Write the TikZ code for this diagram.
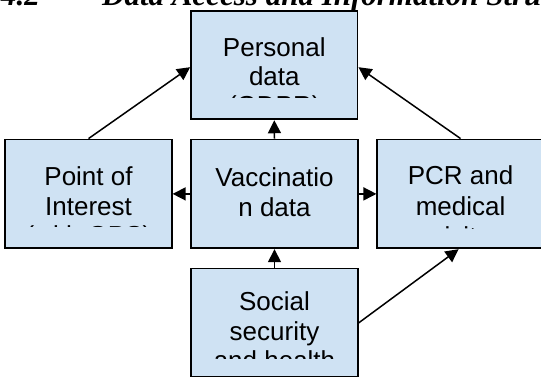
\documentclass[tikz,border=0pt]{standalone}
\usepackage{fontspec}
\setmainfont{Liberation Sans}
\newfontfamily\headfont{Liberation Serif}
\usetikzlibrary{arrows.meta}
\definecolor{boxblue}{HTML}{CFE2F3}

\begin{document}
\begin{tikzpicture}[x=1pt,y=-1pt,
  databox/.style={draw=black, line width=1.8pt, fill=boxblue, inner sep=0pt,
    minimum width=166.5pt, minimum height=108.8pt},
  boxline/.style={anchor=base, inner sep=0pt, font=\fontsize{26}{29}\selectfont},
  headline/.style={anchor=base west, inner sep=0pt,
    font=\headfont\bfseries\itshape\fontsize{31}{31}\selectfont},
  link/.style={line width=1.5pt, -{Triangle[length=13pt,width=13pt]}}]
\useasboundingbox (0,0) rectangle (541,377);
\clip (0,0) rectangle (541,377);

% section heading, only its lower part lies on the page
\node[headline] (hnum) at (1,5.5) {4.2};
\node[headline] (htitle) at (102,5.5) {Data Access and Information Structure};

% boxes
\node[databox, minimum height=108.3pt] (pd) at (274.3,65.2) {};
\node[databox] (poi) at (88.5,193.9) {};
\node[databox] (vac) at (274.5,193.9) {};
\node[databox] (pcr) at (460.6,193.9) {};
\node[databox] (ss)  at (274.5,322.9) {};

% box texts, cut off at the lower text margin
\begin{scope}
  \clip (pd.north west) rectangle (pd.east |- 0,97.6);
  \node[boxline] (pd1) at (274.3,57) {Personal};
  \node[boxline] (pd2) at (274.3,86) {data};
  \node[boxline] (pd3) at (274.3,115) {(GDPR)};
\end{scope}
\begin{scope}
  \clip (poi.north west) rectangle (poi.east |- 0,226.8);
  \node[boxline] (poi1) at (88.5,185.5) {Point of};
  \node[boxline] (poi2) at (88.5,215) {Interest};
  \node[boxline] (poi3) at (88.5,244.5) {(with GPS)};
\end{scope}
\node[boxline] (vac1) at (274.5,186) {Vaccinatio};
\node[boxline] (vac2) at (274.5,216) {n data};
\begin{scope}
  \clip (pcr.north west) rectangle (pcr.east |- 0,228.6);
  \node[boxline] (pcr1) at (460.6,185) {PCR and};
  \node[boxline] (pcr2) at (460.6,215.5) {medical};
  \node[boxline] (pcr3) at (460.6,245) {visits};
\end{scope}
\begin{scope}
  \clip (ss.north west) rectangle (ss.east |- 0,358.5);
  \node[boxline] (ss1) at (274.5,310.7) {Social};
  \node[boxline] (ss2) at (274.5,340) {security};
  \node[boxline] (ss3) at (274.5,369) {and health};
\end{scope}

% connectors
\draw[link] (poi.north) -- ([yshift=-2pt]pd.west);
\draw[link] (pcr.north) -- ([yshift=-2pt]pd.east);
\draw[link] (vac.north) -- (pd.south);
\draw[link] (vac.west) -- (poi.east);
\draw[link] (vac.east) -- (pcr.west);
\draw[link] (ss.north) -- (vac.south);
\draw[link] (ss.east) -- ([xshift=-2pt]pcr.south);
\end{tikzpicture}
\end{document}
